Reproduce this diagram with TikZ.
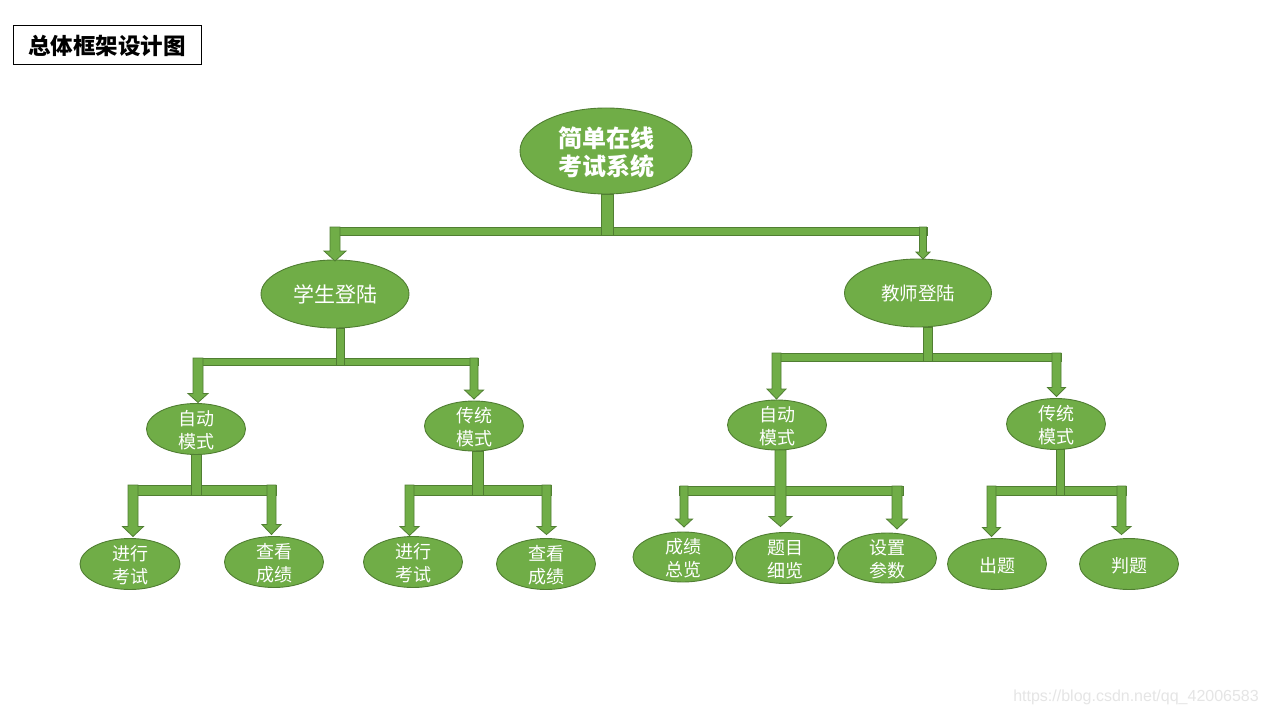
\documentclass[tikz,border=0pt]{standalone}
\usepackage{fontspec}
\newfontfamily\cjk{Noto Sans CJK SC}
\setmainfont{Liberation Sans}
\usetikzlibrary{shapes.geometric,calc}
\definecolor{gfill}{HTML}{70AD47}
\definecolor{gline}{HTML}{507E32}
\tikzset{
  el/.style={ellipse,fill=gfill,draw=gline,line width=0.9pt,inner sep=0pt,outer sep=0pt},
  conn/.style={fill=gfill,draw=gline,line width=0.8pt,line join=miter},
  lbl/.style={text=white,align=center,inner sep=0pt},
  fsmall/.style={font=\cjk\fontsize{18}{23}\selectfont,yshift=-1.5pt},
}
% arrow from bar (top y) down to child: #1 child, #2 x offset, #3 top y, #4 shaft half width, #5 head half width, #6 head length, #7 gap above child top
\newcommand\arrto[7]{%
  \filldraw[conn] let \p1=(#1.north) in
   (\x1+#2-#4,-#3pt) -- (\x1+#2+#4,-#3pt) -- (\x1+#2+#4,\y1+#7pt+#6pt) -- (\x1+#2+#5,\y1+#7pt+#6pt)
   -- (\x1+#2,\y1+#7pt) -- (\x1+#2-#5,\y1+#7pt+#6pt) -- (\x1+#2-#4,\y1+#7pt+#6pt) -- cycle;}
% stem from parent down to bar bottom: #1 parent, #2 x offset, #3 half width, #4 bottom y
\newcommand\stemfrom[4]{%
  \filldraw[conn] let \p1=(#1.south) in (\x1+#2-#3,\y1) rectangle (\x1+#2+#3,-#4pt);}
% bar: #1 left child, #2 left offset, #3 right child, #4 right offset, #5 top y, #6 bottom y
\newcommand\crossbar[6]{%
  \filldraw[conn] let \p1=(#1.north), \p2=(#3.north) in (\x1+#2,-#5pt) rectangle (\x2+#4,-#6pt);}
\begin{document}
\begin{tikzpicture}[x=1pt,y=-1pt]
\useasboundingbox (0,0) rectangle (1268,714);
\fill[white] (0,0) rectangle (1268,714);

% title
\node[draw=black,line width=1pt,minimum width=188pt,minimum height=39pt,inner sep=0pt,
      font=\cjk\bfseries\fontsize{22.5}{26}\selectfont] (title) at (107,45.5) {总体框架设计图};

% ellipses
\node[el,minimum width=172pt,minimum height=86pt,
  label={[lbl,yshift=-1pt,font=\cjk\bfseries\fontsize{24}{28}\selectfont]center:{简单在线\\考试系统}}] (root) at (606,151) {};
\node[el,minimum width=148pt,minimum height=68pt,
  label={[lbl,font=\cjk\fontsize{21}{24}\selectfont]center:{学生登陆}}] (stu) at (335,294) {};
\node[el,minimum width=147pt,minimum height=68pt,
  label={[lbl,font=\cjk\fontsize{18.5}{22}\selectfont]center:{教师登陆}}] (tea) at (918,293) {};

\node[el,minimum width=99pt,minimum height=51pt,label={[lbl,fsmall]center:{自动\\模式}}] (autoL) at (196,429) {};
\node[el,minimum width=99pt,minimum height=50pt,label={[lbl,fsmall]center:{传统\\模式}}] (tradL) at (474,426) {};
\node[el,minimum width=99pt,minimum height=50pt,label={[lbl,fsmall]center:{自动\\模式}}] (autoR) at (777,425) {};
\node[el,minimum width=99pt,minimum height=51pt,label={[lbl,fsmall]center:{传统\\模式}}] (tradR) at (1056,424) {};

\node[el,minimum width=100pt,minimum height=51pt,label={[lbl,fsmall]center:{进行\\考试}}] (examL) at (130,564) {};
\node[el,minimum width=99pt,minimum height=51pt,label={[lbl,fsmall]center:{查看\\成绩}}] (scoreL) at (274,562) {};
\node[el,minimum width=99pt,minimum height=51pt,label={[lbl,fsmall]center:{进行\\考试}}] (examR) at (413,562) {};
\node[el,minimum width=99pt,minimum height=51pt,label={[lbl,fsmall]center:{查看\\成绩}}] (scoreR) at (546,564) {};
\node[el,minimum width=100pt,minimum height=50pt,label={[lbl,fsmall]center:{成绩\\总览}}] (overview) at (683,557) {};
\node[el,minimum width=99pt,minimum height=51pt,label={[lbl,fsmall]center:{题目\\细览}}] (detail) at (785,558) {};
\node[el,minimum width=99pt,minimum height=50pt,label={[lbl,fsmall]center:{设置\\参数}}] (param) at (887,558) {};
\node[el,minimum width=99pt,minimum height=51pt,label={[lbl,fsmall]center:{出题}}] (setq) at (997,564) {};
\node[el,minimum width=99pt,minimum height=51pt,label={[lbl,fsmall]center:{判题}}] (judge) at (1129,564) {};

% root group
\crossbar{stu}{-5}{tea}{9}{227}{235}
\stemfrom{root}{1}{6}{235}
\arrto{stu}{0}{227}{5}{11}{10}{-1}
\arrto{tea}{5}{227}{3.5}{7}{7}{0}

% student group
\crossbar{autoL}{-3}{tradL}{4}{358}{365}
\stemfrom{stu}{5}{4}{365}
\arrto{autoL}{2}{358}{5}{10}{9}{1}
\arrto{tradL}{0}{358}{4}{9.5}{9}{2}

% teacher group
\crossbar{autoR}{-5}{tradR}{5}{353}{361}
\stemfrom{tea}{9.5}{4.5}{361}
\arrto{autoR}{-0.5}{353}{4.5}{9.5}{10}{1}
\arrto{tradR}{0.5}{353}{4.5}{9}{9}{2}

% auto (student) group
\crossbar{examL}{-2}{scoreL}{2}{485}{495}
\stemfrom{autoL}{0}{5}{495}
\arrto{examL}{3}{485}{5}{10.5}{10}{2}
\arrto{scoreL}{-2.5}{485}{4.5}{9.5}{10}{2}

% traditional (student) group
\crossbar{examR}{-8}{scoreR}{5}{485}{495}
\stemfrom{tradL}{3.5}{5.5}{495}
\arrto{examR}{-3.5}{485}{4.5}{9.5}{9}{1}
\arrto{scoreR}{0.5}{485}{4.5}{9.5}{8}{4}

% auto (teacher) group
\crossbar{overview}{-4}{param}{16}{486}{495}
\arrto{overview}{1}{486}{4}{8.5}{8}{5}
\arrto{param}{10}{486}{5}{10.5}{10}{4}
\arrto{detail}{-4.5}{450}{5.5}{11.5}{10}{6}

% traditional (teacher) group
\crossbar{setq}{-10}{judge}{-3}{486}{495}
\stemfrom{tradR}{4}{4}{495}
\arrto{setq}{-5.5}{486}{4.5}{9}{9}{2}
\arrto{judge}{-7.5}{486}{4.5}{9.5}{8}{4}

% watermark
\node[anchor=base east,inner sep=0pt,text=black!10,font=\fontsize{16}{18}\selectfont] (wm) at (1259,701) {https://blog.csdn.net/qq\_42006583};
\end{tikzpicture}
\end{document}
